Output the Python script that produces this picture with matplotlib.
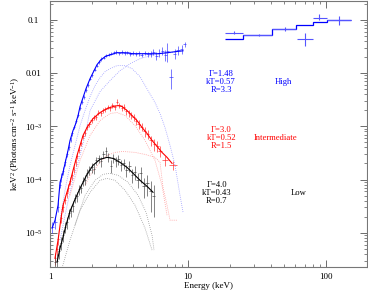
import matplotlib
matplotlib.use('Agg')
import matplotlib.pyplot as plt
import numpy as np
from matplotlib.ticker import FixedLocator, NullFormatter, LogLocator

plt.rcParams['font.family'] = ['Liberation Serif', 'DejaVu Serif']
plt.rcParams['mathtext.fontset'] = 'custom'
plt.rcParams['mathtext.rm'] = 'Liberation Serif'
plt.rcParams['mathtext.it'] = 'Liberation Serif:italic'

# ---- High state (blue) ----
e_high = [1.04, 1.09, 1.14, 1.18, 1.21, 1.25, 1.29, 1.33, 1.37, 1.41, 1.45, 1.50,
          1.55, 1.60, 1.65, 1.70, 1.76, 1.82, 1.88, 1.95, 2.02, 2.10, 2.18, 2.26,
          2.35, 2.45, 2.55, 2.66, 2.78, 2.90, 3.03, 3.17, 3.32, 3.48, 3.64, 3.82,
          4.00, 4.20, 4.40, 4.62, 4.85, 5.10, 5.35, 5.62, 5.90, 6.20, 6.50, 6.85,
          7.10, 7.52, 8.00, 8.50, 9.00, 9.50]
f_high = [1.3e-5, 1.6e-5, 3.1e-5, 8.0e-5, 1.1e-4, 1.45e-4, 2.1e-4, 3.0e-4, 4.1e-4, 5.6e-4,
          7.5e-4, 9.8e-4, 1.25e-3, 1.65e-3, 2.2e-3, 2.9e-3, 3.6e-3, 4.9e-3, 6.0e-3, 7.9e-3,
          9.0e-3, 1.15e-2, 1.38e-2, 1.62e-2, 1.85e-2, 1.95e-2, 2.15e-2, 2.2e-2, 2.3e-2, 2.45e-2,
          2.5e-2, 2.35e-2, 2.5e-2, 2.4e-2, 2.45e-2, 2.3e-2, 2.4e-2, 2.25e-2, 2.35e-2, 2.2e-2,
          2.4e-2, 2.25e-2, 2.3e-2, 2.5e-2, 2.1e-2, 2.4e-2, 2.6e-2, 2.2e-2, 2.6e-2, 8.5e-3,
          2.3e-2, 2.7e-2, 2.8e-2, 3.5e-2]
err_high = [0.3e-5, 0.4e-5, 0.6e-5, 1.2e-5, 0.2e-4, 0.25e-4, 0.3e-4, 0.4e-4, 0.5e-4, 0.6e-4,
            0.8e-4, 1.0e-4, 0.12e-3, 0.15e-3, 0.2e-3, 0.25e-3, 0.3e-3, 0.4e-3, 0.5e-3, 0.6e-3,
            0.7e-3, 0.08e-2, 0.1e-2, 0.12e-2, 0.13e-2, 0.14e-2, 0.15e-2, 0.15e-2, 0.16e-2, 0.17e-2,
            0.18e-2, 0.17e-2, 0.18e-2, 0.18e-2, 0.19e-2, 0.19e-2, 0.2e-2, 0.2e-2, 0.22e-2, 0.23e-2,
            0.25e-2, 0.27e-2, 0.3e-2, 0.33e-2, 0.35e-2, 0.4e-2, 0.45e-2, 0.5e-2, 1.0e-2, 0.35e-2,
            0.5e-2, 0.5e-2, 0.5e-2, 0.4e-2]
em_high = [1.034, 1.087, 1.143, 1.182, 1.242, 1.284, 1.350, 1.396, 1.468, 1.518, 1.596,
           1.650, 1.734, 1.823, 1.950, 2.084, 2.191, 2.342, 2.503, 2.721, 3.059, 3.496,
           3.995, 4.642, 5.304, 6.061, 7.043, 8.05, 9.20]
m_high = [1.22e-5, 1.72e-5, 3.29e-5, 8.87e-5, 1.36e-4, 2.01e-4, 3.52e-4, 5.42e-4, 8.34e-4,
          1.03e-3, 1.59e-3, 2.35e-3, 3.46e-3, 5.10e-3, 7.85e-3, 1.11e-2, 1.44e-2, 1.78e-2,
          2.03e-2, 2.21e-2, 2.41e-2, 2.41e-2, 2.31e-2, 2.31e-2, 2.31e-2, 2.31e-2, 2.41e-2,
          2.52e-2, 2.62e-2]
ec1_high = [1.182, 1.284, 1.396, 1.518, 1.650, 1.793, 1.950, 2.119, 2.303, 2.503, 2.721,
            3.059, 3.496, 3.929, 4.489, 5.130, 5.767, 6.268, 6.81, 7.41, 8.05, 8.75, 9.20]
c1_high = [1.72e-5, 6.28e-5, 1.85e-4, 4.37e-4, 1.03e-3, 1.98e-3, 3.61e-3, 5.81e-3, 8.20e-3,
           1.06e-2, 1.21e-2, 1.38e-2, 1.38e-2, 1.21e-2, 8.57e-3, 4.68e-3, 2.79e-3, 1.74e-3,
           9.50e-4, 4.37e-4, 1.85e-4, 5.06e-5, 2.43e-5]
ec2_high = [1.182, 1.284, 1.396, 1.518, 1.650, 1.793, 1.950, 2.303, 2.721, 3.215, 3.80,
            4.489, 5.304, 6.268, 7.41, 9.20]
c2_high = [7.27e-6, 2.14e-5, 5.75e-5, 1.36e-4, 2.84e-4, 6.73e-4, 1.98e-3, 4.49e-3, 7.21e-3,
           1.11e-2, 1.50e-2, 1.86e-2, 2.12e-2, 2.31e-2, 2.41e-2, 2.62e-2]

# hard X-ray points (High)
e_hard = [21.5, 32.7, 50.4, 70.4, 89.0, 124.0]
e_hard_lo = [18.6, 25.0, 40.6, 61.7, 80.4, 101.8]
e_hard_hi = [25.0, 40.6, 60.7, 80.4, 101.8, 151.0]
f_hard = [0.0578, 0.0516, 0.067, 0.0435, 0.110, 0.100]
f_hard_lo = [0.0545, 0.0490, 0.062, 0.0326, 0.0987, 0.081]
f_hard_hi = [0.0610, 0.0545, 0.072, 0.0578, 0.128, 0.119]
hard_edges = [18.6, 25.0, 40.6, 60.7, 80.4, 101.8, 151.0]
hard_model = [0.044, 0.0516, 0.067, 0.0806, 0.0917, 0.100]

# ---- Intermediate state (red) ----
e_int = [1.09, 1.12, 1.15, 1.20, 1.24, 1.28, 1.32, 1.36, 1.40, 1.44, 1.48, 1.53, 1.58,
         1.63, 1.68, 1.74, 1.80, 1.86, 1.93, 2.00, 2.08, 2.16, 2.24, 2.33, 2.42, 2.52,
         2.62, 2.72, 2.83, 2.94, 3.06, 3.18, 3.31, 3.44, 3.58, 3.72, 3.87, 4.03, 4.20,
         4.40, 4.62, 4.85, 5.10, 5.40, 5.70, 6.00, 6.30, 6.80, 7.80]
f_int = [3.3e-6, 5.0e-6, 7.5e-6, 1.9e-5, 3.0e-5, 4.2e-5, 5.5e-5, 7.0e-5, 9.5e-5, 1.2e-4,
         1.55e-4, 2.1e-4, 2.8e-4, 3.6e-4, 4.8e-4, 6.5e-4, 7.5e-4, 9.8e-4, 1.1e-3, 1.3e-3,
         1.45e-3, 1.5e-3, 1.8e-3, 1.75e-3, 2.0e-3, 2.1e-3, 2.3e-3, 2.2e-3, 2.5e-3, 2.3e-3,
         2.9e-3, 2.5e-3, 2.2e-3, 2.3e-3, 1.9e-3, 1.75e-3, 1.6e-3, 1.5e-3, 1.25e-3, 1.1e-3,
         9.8e-4, 8.0e-4, 7.2e-4, 5.5e-4, 4.6e-4, 4.3e-4, 3.5e-4, 2.3e-4, 1.85e-4]
err_int = [0.8e-6, 1.2e-6, 1.5e-6, 0.4e-5, 0.6e-5, 0.8e-5, 1.0e-5, 1.2e-5, 1.5e-5, 0.2e-4,
           0.25e-4, 0.3e-4, 0.4e-4, 0.5e-4, 0.6e-4, 0.8e-4, 0.9e-4, 1.1e-4, 0.12e-3, 0.14e-3,
           0.15e-3, 0.16e-3, 0.18e-3, 0.2e-3, 0.2e-3, 0.22e-3, 0.23e-3, 0.24e-3, 0.25e-3, 0.26e-3,
           0.3e-3, 0.28e-3, 0.26e-3, 0.28e-3, 0.25e-3, 0.24e-3, 0.23e-3, 0.22e-3, 0.2e-3, 0.2e-3,
           1.8e-4, 1.6e-4, 1.5e-4, 1.2e-4, 1.1e-4, 1.0e-4, 0.8e-4, 0.5e-4, 0.35e-4]
em_int = [1.087, 1.143, 1.201, 1.242, 1.306, 1.396, 1.468, 1.569, 1.650, 1.734, 1.854,
          2.049, 2.303, 2.588, 2.861, 3.110, 3.324, 3.614, 3.929, 4.270, 4.642, 5.045,
          5.484, 5.963, 6.48, 7.043, 7.66]
m_int = [3.34e-6, 7.27e-6, 1.88e-5, 3.29e-5, 5.06e-5, 8.87e-5, 1.49e-4, 2.84e-4, 4.37e-4,
         6.73e-4, 9.50e-4, 1.40e-3, 1.81e-3, 2.15e-3, 2.35e-3, 2.45e-3, 2.35e-3, 1.98e-3,
         1.59e-3, 1.28e-3, 9.50e-4, 7.33e-4, 5.42e-4, 4.19e-4, 3.23e-4, 2.61e-4, 2.01e-4]
ec1_int = [1.396, 1.650, 1.950, 2.303, 2.721, 3.059, 3.496, 4.130, 4.880, 5.767, 6.48, 7.043]
c1_int = [5.06e-5, 2.29e-4, 6.73e-4, 1.28e-3, 1.74e-3, 1.81e-3, 1.59e-3, 1.03e-3, 5.42e-4,
          2.29e-4, 7.78e-5, 2.14e-5]
ec2_int = [1.793, 1.950, 2.303, 2.588, 2.958, 3.381, 4.130, 4.880, 5.767, 6.268, 6.59,
           7.043, 7.41, 8.32]
c2_int = [7.78e-5, 1.20e-4, 2.10e-4, 2.84e-4, 3.23e-4, 3.37e-4, 3.23e-4, 2.96e-4, 2.61e-4,
          2.10e-4, 7.14e-5, 3.29e-5, 1.72e-5, 1.72e-5]

# ---- Low state (black) ----
e_low = [1.09, 1.13, 1.17, 1.21, 1.25, 1.29, 1.33, 1.37, 1.41, 1.46, 1.51, 1.56, 1.61,
         1.67, 1.73, 1.79, 1.86, 1.93, 2.00, 2.08, 2.16, 2.25, 2.34, 2.44, 2.54, 2.65,
         2.76, 2.88, 3.00, 3.13, 3.27, 3.42, 3.58, 3.75, 3.93, 4.12, 4.33, 4.55, 4.80,
         5.05, 5.35, 5.65]
f_low = [2.8e-6, 3.0e-6, 4.5e-6, 6.5e-6, 9.0e-6, 1.3e-5, 1.6e-5, 2.3e-5, 2.6e-5, 3.2e-5,
         4.5e-5, 4.8e-5, 6.5e-5, 7.0e-5, 9.5e-5, 1.0e-4, 1.3e-4, 1.5e-4, 1.7e-4, 1.6e-4,
         2.3e-4, 2.5e-4, 2.2e-4, 3.0e-4, 3.4e-4, 2.6e-4, 1.8e-4, 2.5e-4, 2.2e-4, 2.4e-4,
         1.9e-4, 2.0e-4, 1.5e-4, 1.8e-4, 1.2e-4, 1.4e-4, 1.0e-4, 1.3e-4, 7.5e-5, 8.5e-5,
         6.0e-5, 5.0e-5]
err_low = [0.8e-6, 1.0e-6, 1.3e-6, 1.8e-6, 2.2e-6, 0.3e-5, 0.4e-5, 0.5e-5, 0.6e-5, 0.7e-5,
           0.9e-5, 1.0e-5, 1.3e-5, 1.4e-5, 1.8e-5, 0.2e-4, 0.25e-4, 0.3e-4, 0.35e-4, 0.35e-4,
           0.4e-4, 0.45e-4, 0.45e-4, 0.5e-4, 0.6e-4, 0.5e-4, 0.5e-4, 0.5e-4, 0.5e-4, 0.5e-4,
           0.45e-4, 0.45e-4, 0.4e-4, 0.4e-4, 0.35e-4, 0.4e-4, 0.3e-4, 0.45e-4, 3.0e-5, 3.5e-5,
           3.5e-5, 3.0e-5]
em_low = [1.124, 1.182, 1.242, 1.306, 1.396, 1.518, 1.650, 1.854, 2.049, 2.303, 2.588,
          2.861, 3.215, 3.614, 3.995, 4.489, 5.045, 5.577]
m_low = [2.81e-6, 5.15e-6, 8.28e-6, 1.39e-5, 2.54e-5, 4.26e-5, 6.84e-5, 1.25e-4, 1.85e-4,
         2.39e-4, 2.61e-4, 2.49e-4, 2.10e-4, 1.69e-4, 1.31e-4, 9.66e-5, 7.46e-5, 5.75e-5]
ec1_low = [1.518, 1.793, 2.119, 2.422, 2.721, 3.110, 3.675, 4.342, 4.962, 5.484, 5.670]
c1_low = [1.39e-5, 5.06e-5, 9.66e-5, 1.25e-4, 1.31e-4, 1.20e-4, 8.87e-5, 5.06e-5, 2.43e-5,
          9.02e-6, 4.72e-6]
ec2_low = [1.222, 1.396, 1.650, 1.950, 2.303, 2.588, 2.958, 3.496, 4.130, 4.880, 5.484]
c2_low = [2.17e-6, 7.27e-6, 2.65e-5, 5.75e-5, 9.66e-5, 1.05e-4, 9.66e-5, 6.28e-5, 3.29e-5,
          1.22e-5, 4.72e-6]

fig = plt.figure(figsize=(3.68, 2.97), dpi=100)
ax = fig.add_axes([0.136, 0.101, 0.861, 0.896])


def spectrum(e, f, err, em, m, comps, col, ecol):
    e = np.array(e)
    xe = np.gradient(e) / 2
    ax.errorbar(e, f, yerr=err, xerr=xe, fmt='none', ecolor=ecol, elinewidth=0.6,
                capsize=0, alpha=0.75, zorder=2)
    ax.plot(em, m, color=col, lw=0.8, zorder=3)
    for ec, c in comps:
        ax.plot(ec, c, color=col, lw=0.6, ls=(0, (1, 1.5)), alpha=0.4, zorder=1)


spectrum(e_high, f_high, err_high, em_high, m_high,
         [(ec1_high, c1_high), (ec2_high, c2_high)], '#0000ff', '#3030ff')
spectrum(e_int, f_int, err_int, em_int, m_int,
         [(ec1_int, c1_int), (ec2_int, c2_int)], '#ff0000', '#ff2020')
spectrum(e_low, f_low, err_low, em_low, m_low,
         [(ec1_low, c1_low), (ec2_low, c2_low)], '#000000', '#404040')

eh = np.array(e_hard)
fh = np.array(f_hard)
ax.errorbar(eh, fh,
            xerr=[eh - np.array(e_hard_lo), np.array(e_hard_hi) - eh],
            yerr=[fh - np.array(f_hard_lo), np.array(f_hard_hi) - fh],
            fmt='none', ecolor='#5555ff', elinewidth=0.8, capsize=0)
ax.stairs(hard_model, hard_edges, baseline=None, color='#0000ff', lw=0.9)

ax.set_xscale('log')
ax.set_yscale('log')
ax.set_xlim(1, 198)
ax.set_ylim(2.27e-6, 0.227)

ax.xaxis.set_major_locator(FixedLocator([1, 10, 100]))
ax.set_xticklabels(['1', '10', '100'])
ax.xaxis.set_minor_locator(LogLocator(base=10, subs=np.arange(2, 10)))
ax.xaxis.set_minor_formatter(NullFormatter())
ax.yaxis.set_major_locator(FixedLocator([1e-5, 1e-4, 1e-3, 1e-2, 1e-1]))
ax.set_yticklabels([r'$10^{-5}$', r'$10^{-4}$', r'$10^{-3}$', '0.01', '0.1'])
ax.yaxis.set_minor_locator(LogLocator(base=10, subs=np.arange(2, 10)))
ax.yaxis.set_minor_formatter(NullFormatter())

ax.tick_params(which='both', direction='in', top=True, right=True, colors='#555555',
               labelcolor='black', labelsize=6.5)
ax.tick_params(which='major', length=5, width=0.6)
ax.tick_params(which='minor', length=2.5, width=0.5)
ax.tick_params(axis='x', pad=4)
ax.tick_params(axis='y', pad=12)
for lab in ax.get_yticklabels():
    lab.set_ha('center')
for s in ax.spines.values():
    s.set_color('#777777')
    s.set_linewidth(0.8)

ax.set_xlabel('Energy (keV)', fontsize=6.5, labelpad=1)
ax.set_ylabel(r'keV$^2$ (Photons cm$^{-2}$ s$^{-1}$ keV$^{-1}$)', fontsize=6.5, labelpad=2)

ax.text(17.4, 6.9e-3, 'Γ=1.48\nkT=0.57\nR=3.3', color='#0000ff', fontsize=6.2,
        ha='center', va='center', linespacing=1.0)
ax.text(48.8, 6.9e-3, 'High', color='#0000ff', fontsize=6.2, ha='center', va='center')
ax.text(17.4, 5.9e-4, 'Γ=3.0\nkT=0.52\nR=1.5', color='#ff0000', fontsize=6.2,
        ha='center', va='center', linespacing=1.0)
ax.text(43.4, 5.9e-4, 'Intermediate', color='#ff0000', fontsize=6.2, ha='center', va='center')
ax.text(16.2, 5.5e-5, 'Γ=4.0\nkT=0.43\nR=0.7', color='black', fontsize=6.2,
        ha='center', va='center', linespacing=1.0)
ax.text(63.7, 5.5e-5, 'Low', color='black', fontsize=6.2, ha='center', va='center')

fig.savefig('out.png', dpi=100)
